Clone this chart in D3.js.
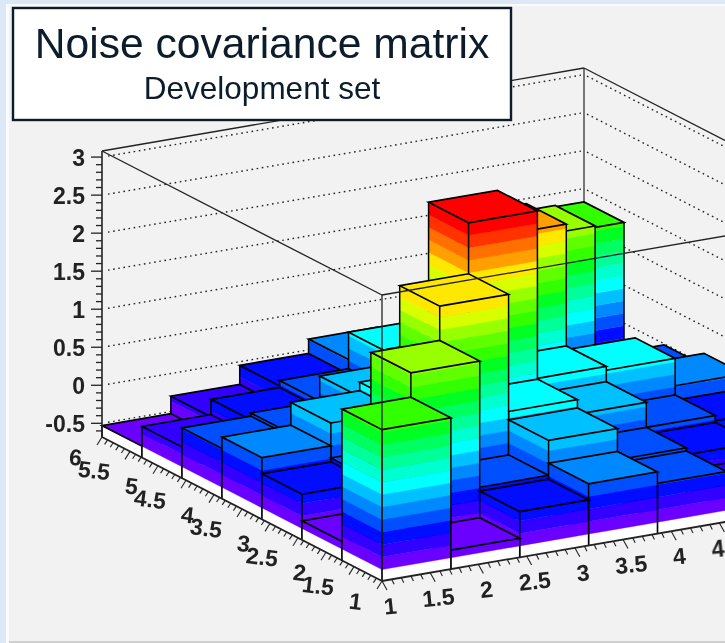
<!DOCTYPE html>
<html>
<head>
<meta charset="utf-8">
<script src="https://cdn.jsdelivr.net/npm/d3@7"></script>
<style>
  html, body { margin: 0; padding: 0; background: #dce8f6; }
  svg { display: block; }
  text { font-family: "Liberation Sans", Arial, sans-serif; }
</style>
</head>
<body>
<svg id="chart" width="725" height="643"></svg>
<script>
// Lego plot, rows are y bins (front to back), columns are x bins (front to back)
const row0 = [1.31, -0.43, -0.08, 0.13, -0.02, -0.27, -0.53];
const row1 = [-0.43, 1.63, -0.03, 0.43, 0.02, -0.07, -0.30];
const row2 = [-0.08, -0.03, 2.08, 0.54, 0.35, 0.02, -0.05];
const row3 = [0.13, 0.43, 0.54, 2.75, 0.55, 0.50, 0.14];
const row4 = [-0.02, 0.02, 0.35, 0.55, 2.15, -0.03, -0.02];
const row5 = [-0.27, -0.07, 0.02, 0.50, -0.03, 1.70, -0.43];
const row6 = [-0.53, -0.30, -0.05, 0.14, -0.02, -0.43, 1.32];
const matrix = [row0, row1, row2, row3, row4, row5, row6];

// the x axis runs off the page after 4.5
const xTickLabels = ["1", "1.5", "2", "2.5", "3", "3.5", "4", "4.5"];
const yTickLabels = ["1", "1.5", "2", "2.5", "3", "3.5", "4", "4.5", "5", "5.5", "6"];
const zTickLabels = ["-0.5", "0", "0.5", "1", "1.5", "2", "2.5", "3"];

// 20 contour levels, plus the last colour for the peak itself
const levelColors = [
  "#6a00ff", "#3000ff", "#0008ff", "#0050ff", "#0088ff", "#00c0ff", "#00ffff",
  "#00ffd0", "#00ff98", "#00ff60", "#00ff20", "#30ff00", "#60ff00", "#98ff00",
  "#d8ff00", "#ffe800", "#ffa000", "#ff7000", "#ff3000", "#ff0000", "#ff0000"
];

const Z_FLOOR = -0.68, Z_TOP = 3.08, Z_MIN = -0.53, Z_MAX = 2.75;
const ORIGIN = [382, 581];
const X_VEC = [482, -83];
const Y_VEC = [-280, -144];

const fx = d3.scaleLinear().domain([1, 6]).range([0, 1]);
const fy = d3.scaleLinear().domain([1, 6]).range([0, 1]);
const hz = d3.scaleLinear().domain([Z_FLOOR, Z_TOP]).range([0, 286]);

const nBins = matrix.length;
const levelStep = (Z_MAX - Z_MIN) / 20;
const thresholds = d3.range(1, 21).map(i => Z_MIN + i * levelStep);
const colorZ = d3.scaleThreshold().domain(thresholds).range(levelColors);

// fractions along the two floor edges -> screen
function proj(a, b, z) {
  return [
    ORIGIN[0] + a * X_VEC[0] + b * Y_VEC[0],
    ORIGIN[1] + a * X_VEC[1] + b * Y_VEC[1] - hz(z)
  ];
}

const svgRoot = d3.select("#chart");
svgRoot.append("defs").append("filter").attr("id", "soft")
  .attr("x", 0).attr("y", 0).attr("width", 1).attr("height", 1)
  .append("feGaussianBlur").attr("stdDeviation", 0.4);
const svg = svgRoot.append("g").attr("filter", "url(#soft)");
const line = d3.line();

function polygon(g, pts, fill) {
  g.append("path").attr("d", line(pts) + "Z").attr("fill", fill)
    .attr("stroke", fill).attr("stroke-width", 0.4);
}
function edge(g, a, b, color, width, dash) {
  const p = g.append("line")
    .attr("x1", a[0]).attr("y1", a[1]).attr("x2", b[0]).attr("y2", b[1])
    .attr("stroke", color).attr("stroke-width", width);
  if (dash) p.attr("stroke-dasharray", dash);
  return p;
}

// page + pad
svg.append("rect").attr("width", 725).attr("height", 643).attr("fill", "#dce8f6");
svg.append("rect").attr("x", 6).attr("y", 4).attr("width", 719).attr("height", 639).attr("fill", "#fafbfc");
svg.append("rect").attr("x", 9).attr("y", 6).attr("width", 716).attr("height", 636).attr("fill", "#f2f2f2");
svg.append("rect").attr("x", 9).attr("y", 641).attr("width", 716).attr("height", 2).attr("fill", "#cfcfcf");

// back walls
const gWalls = svg.append("g");
const wallA = z => proj(0, 1, z);
const wallB = z => proj(1, 1, z);
const wallC = z => proj(1, 0, z);

zTickLabels.forEach(t => {
  const z = +t;
  const a = wallA(z), b = wallB(z), c = wallC(z);
  edge(gWalls, [a[0] + 6, a[1] - 1], [b[0] - 3, b[1] + 1], "#222", 1.4, "1.6 3.6");
  edge(gWalls, [b[0] + 3, b[1] + 2], c, "#222", 1.4, "1.6 3.6");
});
edge(gWalls, wallA(Z_TOP), wallB(Z_TOP), "#222", 1.3);
edge(gWalls, wallB(Z_TOP), wallC(Z_TOP), "#222", 1.3);
edge(gWalls, wallB(Z_TOP), wallB(Z_FLOOR), "#333", 1.3);

// columns, back corner first
const gBars = svg.append("g");
const order = [];
for (let j = nBins - 1; j >= 0; j--) {
  for (let i = nBins - 1; i >= 0; i--) order.push([i, j]);
}

function bandedFace(g, a0, b0, a1, b1, zTop) {
  // white below the first contour
  const bandEdges = [Z_FLOOR, Z_MIN].concat(thresholds);
  polygon(g, [proj(a0, b0, Z_FLOOR), proj(a1, b1, Z_FLOOR), proj(a1, b1, Z_MIN), proj(a0, b0, Z_MIN)], "#ffffff");
  bandEdges.slice(1).forEach((lo, k) => {
    const hi = k + 2 < bandEdges.length ? bandEdges[k + 2] : Z_TOP;
    if (lo >= zTop) return;
    const top = Math.min(hi, zTop);
    polygon(g, [proj(a0, b0, lo), proj(a1, b1, lo), proj(a1, b1, top), proj(a0, b0, top)], levelColors[k]);
  });
}

order.forEach(([i, j]) => {
  const z = matrix[j][i];
  const a0 = i / nBins, a1 = (i + 1) / nBins, b0 = j / nBins, b1 = (j + 1) / nBins;
  const g = gBars.append("g");
  bandedFace(g, a0, b1, a0, b0, z);
  bandedFace(g, a0, b0, a1, b0, z);
  const top = [proj(a0, b0, z), proj(a1, b0, z), proj(a1, b1, z), proj(a0, b1, z)];
  polygon(g, top, z >= Z_MAX ? levelColors[20] : colorZ(z));
  g.append("path").attr("d", line(top) + "Z").attr("fill", "none")
    .attr("stroke", "#000").attr("stroke-width", 1.7);
  edge(g, proj(a0, b0, z), proj(a0, b0, Z_FLOOR), "#000", 1.5);
  edge(g, proj(a1, b0, z), proj(a1, b0, Z_FLOOR), "#000", 1.5);
  edge(g, proj(a0, b1, z), proj(a0, b1, Z_FLOOR), "#000", 1.5);
});

// front box edges over the bars
const gFront = svg.append("g");
edge(gFront, wallA(Z_TOP), proj(0, 0, Z_TOP), "#222", 1.3);
edge(gFront, proj(0, 0, Z_TOP), proj(1, 0, Z_TOP), "#222", 1.3);
edge(gFront, proj(0, 0, Z_TOP), proj(0, 0, Z_FLOOR), "#222", 1.3);

// axes
const gAxes = svg.append("g").attr("fill", "#222");

// z axis
const zAxisX = wallA(Z_FLOOR)[0];
edge(gAxes, wallA(Z_TOP), wallA(Z_FLOOR), "#222", 1.6);
const zMinor = d3.range(-6, 31).map(d => d / 10).filter(d => d >= Z_FLOOR && d <= Z_TOP);
zMinor.forEach(t => {
  const y = wallA(t)[1];
  const major = Math.abs(t * 2 - Math.round(t * 2)) < 1e-6;
  edge(gAxes, [zAxisX - (major ? 11 : 6), y], [zAxisX, y], "#222", 1.3);
});
zTickLabels.forEach(t => {
  gAxes.append("text")
    .attr("x", zAxisX - 17)
    .attr("y", wallA(+t)[1] + 9)
    .attr("text-anchor", "end")
    .attr("font-size", 23)
    .attr("font-weight", "bold")
    .text(t);
});

// y axis, left floor edge
edge(gAxes, proj(0, 0, Z_FLOOR), proj(0, 1, Z_FLOOR), "#222", 1.8);
d3.range(10, 61).forEach(d => {
  const v = d / 10;
  const p = proj(0, fy(v), Z_FLOOR);
  const major = d % 5 === 0;
  edge(gAxes, p, [p[0] - (major ? 5 : 3), p[1] + (major ? 8 : 4.5)], "#222", 1.1);
});
yTickLabels.forEach(t => {
  const p = proj(0, fy(+t), Z_FLOOR);
  const tx = p[0] - 21, ty = p[1] + 29;
  gAxes.append("text")
    .attr("transform", `translate(${tx},${ty}) rotate(7)`)
    .attr("text-anchor", "end")
    .attr("font-size", 23)
    .attr("font-weight", "bold")
    .text(t);
});

// x axis, right floor edge
edge(gAxes, proj(0, 0, Z_FLOOR), proj(1, 0, Z_FLOOR), "#222", 1.8);
d3.range(10, 61).forEach(d => {
  const v = d / 10;
  const p = proj(fx(v), 0, Z_FLOOR);
  const major = d % 5 === 0;
  edge(gAxes, p, [p[0] + (major ? 5 : 2.5), p[1] + (major ? 9 : 5)], "#222", 1.1);
});
xTickLabels.forEach(t => {
  const p = proj(fx(+t), 0, Z_FLOOR);
  const tx = p[0] + 9, ty = p[1] + 33;
  gAxes.append("text")
    .attr("transform", `translate(${tx},${ty}) rotate(-6)`)
    .attr("text-anchor", "middle")
    .attr("font-size", 23)
    .attr("font-weight", "bold")
    .text(t);
});

// title box
const gTitle = svg.append("g");
gTitle.append("rect").attr("x", 13).attr("y", 8).attr("width", 498).attr("height", 112)
  .attr("fill", "#fff").attr("stroke", "#0c1c2c").attr("stroke-width", 2.4);
gTitle.append("text").attr("x", 262).attr("y", 58).attr("text-anchor", "middle")
  .attr("font-size", 42.6).attr("fill", "#0a1a2a").text("Noise covariance matrix");
gTitle.append("text").attr("x", 262).attr("y", 99).attr("text-anchor", "middle")
  .attr("font-size", 31.5).attr("fill", "#0a1a2a").text("Development set");
</script>
</body>
</html>
